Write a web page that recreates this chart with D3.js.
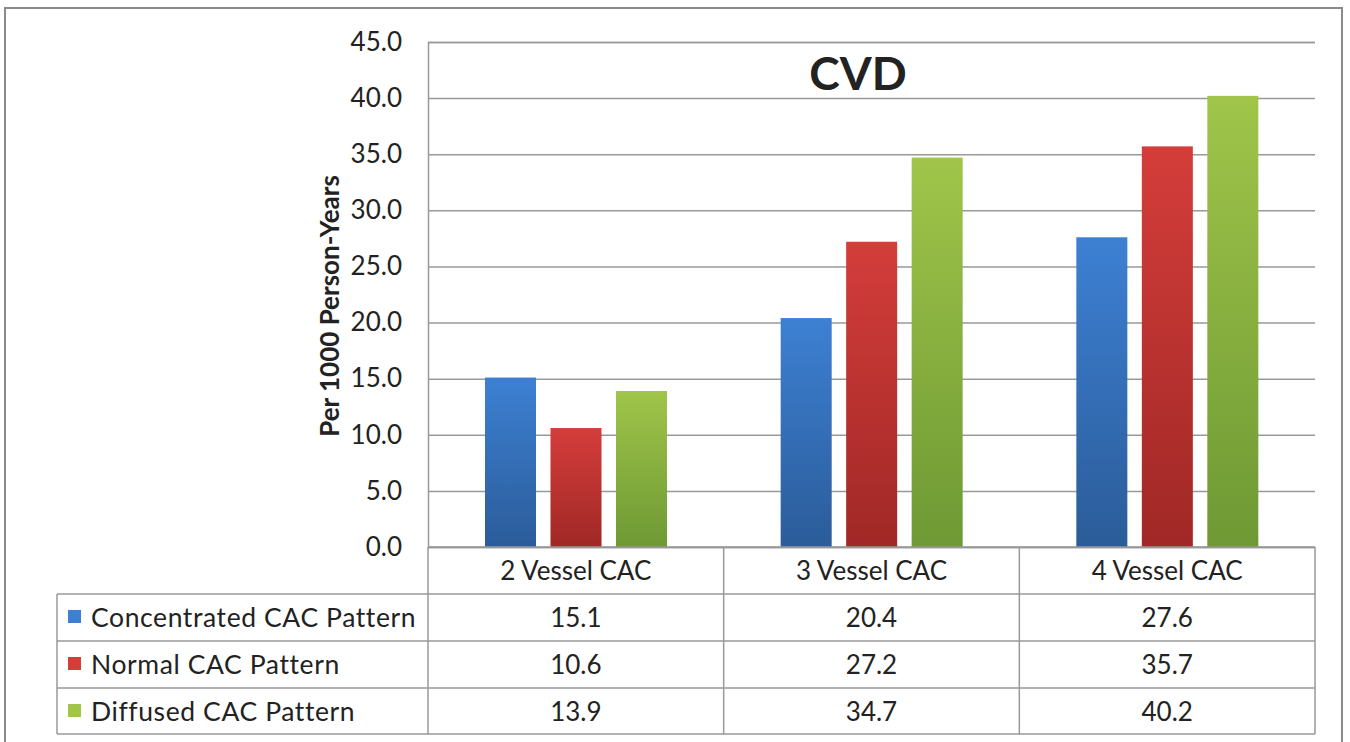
<!DOCTYPE html>
<html><head><meta charset="utf-8">
<script src="https://cdn.jsdelivr.net/npm/d3@7"></script>
<style>body{margin:0;background:#fff}svg{display:block}text{font-family:Lato,"Open Sans",sans-serif;fill:#222}</style>
</head><body><svg id="c" width="1350" height="742"></svg>
<script>
const categories = ["2 Vessel CAC", "3 Vessel CAC", "4 Vessel CAC"];
const seriesNames = ["Concentrated CAC Pattern", "Normal CAC Pattern", "Diffused CAC Pattern"];
const concentrated = [15.1, 20.4, 27.6];
const normal = [10.6, 27.2, 35.7];
const diffused = [13.9, 34.7, 40.2];
const yTicks = [0, 5, 10, 15, 20, 25, 30, 35, 40, 45];
const series = [concentrated, normal, diffused];
const colors = [["#3d80d3", "#2b5c99"], ["#d43d3a", "#a02826"], ["#a0c54a", "#6e9934"]];

const svg = d3.select("#c");
const L = 428, R = 1315, T = 42, B = 547;
const x = d3.scaleBand().domain(categories).range([L, R]);
const xs = d3.scaleBand().domain(d3.range(3)).range([57, 239]).paddingInner(0.221).paddingOuter(0);
const y = d3.scaleLinear().domain([0, 45]).range([B, T]);

// outer border
svg.append("rect").attr("x", 5).attr("y", 8).attr("width", 1337).attr("height", 760)
  .attr("fill", "none").attr("stroke", "#8a8a8a").attr("stroke-width", 2);

const defs = svg.append("defs");
colors.forEach((c, i) => {
  const g = defs.append("linearGradient").attr("id", "g" + i).attr("x1", 0).attr("y1", 0).attr("x2", 0).attr("y2", 1);
  g.append("stop").attr("offset", "0%").attr("stop-color", c[0]);
  g.append("stop").attr("offset", "100%").attr("stop-color", c[1]);
});

// gridlines and axis
const yAxis = d3.axisLeft(y).tickValues(yTicks).tickFormat(d3.format(".1f")).tickSize(-(R - L)).tickPadding(26);
const ga = svg.append("g").attr("transform", `translate(${L},0)`).call(yAxis);
ga.select(".domain").attr("stroke", "#999").attr("stroke-width", 1.5);
ga.selectAll(".tick line").attr("stroke", "#999").attr("stroke-width", 1.5);
ga.selectAll(".tick text").style("font-size", "26px").attr("fill", "#222");

// bars
series.forEach((s, i) => {
  svg.append("g").selectAll("rect").data(s).join("rect")
    .attr("x", (d, j) => x(categories[j]) + xs(i))
    .attr("width", xs.bandwidth())
    .attr("y", d => y(d))
    .attr("height", d => B - y(d))
    .attr("fill", `url(#g${i})`);
});

// title
svg.append("text").attr("x", 858).attr("y", 90).attr("text-anchor", "middle")
  .style("font-size", "46px").style("font-weight", "bold").attr("fill", "#000").text("CVD");

// y label
svg.append("text").attr("transform", "translate(339,306) rotate(-90)").attr("text-anchor", "middle")
  .style("font-size", "26px").style("font-weight", "bold").attr("fill", "#000").text("Per 1000 Person-Years");

// data table
const rowH = 47, TL = 57;
const rowsY = [B, B + rowH, B + 2 * rowH, B + 3 * rowH, B + 4 * rowH - 1];
const tg = svg.append("g").attr("stroke", "#999").attr("stroke-width", 1.5);
tg.append("line").attr("x1", L).attr("x2", R).attr("y1", B).attr("y2", B);
rowsY.slice(1).forEach(yy => tg.append("line").attr("x1", TL).attr("x2", R).attr("y1", yy).attr("y2", yy));
tg.append("line").attr("x1", TL).attr("x2", TL).attr("y1", rowsY[1]).attr("y2", rowsY[4]);
categories.forEach(c => tg.append("line").attr("x1", x(c)).attr("x2", x(c)).attr("y1", B).attr("y2", rowsY[4]));
tg.append("line").attr("x1", R).attr("x2", R).attr("y1", B).attr("y2", rowsY[4]);

categories.forEach(c => svg.append("text").attr("x", x(c) + x.bandwidth() / 2).attr("y", B + 33)
  .attr("text-anchor", "middle").style("font-size", "26px").text(c));

seriesNames.forEach((n, i) => {
  const yy = rowsY[i + 1];
  svg.append("rect").attr("x", 68).attr("y", yy + 16).attr("width", 13).attr("height", 13).attr("fill", colors[i][0]);
  svg.append("text").attr("x", 91).attr("y", yy + 33).style("font-size", "26.5px").style("letter-spacing", "0.6px").text(n);
  series[i].forEach((v, j) => svg.append("text").attr("x", x(categories[j]) + x.bandwidth() / 2).attr("y", yy + 33)
    .attr("text-anchor", "middle").style("font-size", "26px").text(d3.format(".1f")(v)));
});
</script></body></html>
